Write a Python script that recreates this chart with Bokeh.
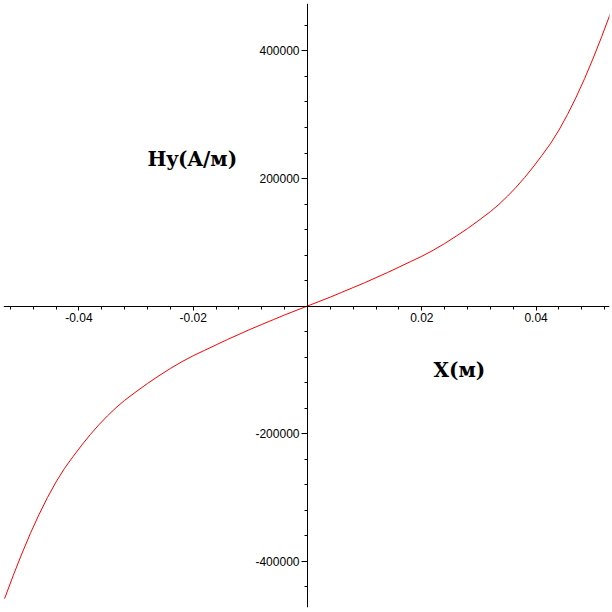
from bokeh.plotting import figure
from bokeh.models import Range1d, FixedTicker, Label, ColumnDataSource
from bokeh.embed import file_html
from bokeh.resources import INLINE

# Curve H_y(x) (positive half; the curve is odd-symmetric)
x_pos = [0.0, 0.002, 0.004, 0.006, 0.008, 0.010, 0.012, 0.014, 0.016, 0.018, 0.020,
         0.022, 0.024, 0.026, 0.028, 0.030, 0.032, 0.0335, 0.035, 0.0365, 0.038,
         0.0395, 0.041, 0.0425, 0.044, 0.0455, 0.047, 0.0485, 0.050, 0.0515, 0.053]
hy_pos = [0, 7000, 14000, 21500, 29000, 36500, 44500, 52500, 61000, 69500, 78000,
          87500, 98000, 109500, 121500, 134500, 148000, 159500, 172300, 186300, 201600,
          218200, 236000, 254500, 276000, 300500, 327500, 357000, 389000, 423000, 459000]
x_neg = [-0.053, -0.0515, -0.050, -0.0485, -0.047, -0.0455, -0.044, -0.0425, -0.041,
         -0.0395, -0.038, -0.0365, -0.035, -0.0335, -0.032, -0.030, -0.028, -0.026,
         -0.024, -0.022, -0.020, -0.018, -0.016, -0.014, -0.012, -0.010, -0.008,
         -0.006, -0.004, -0.002]
hy_neg = [-459000, -423000, -389000, -357000, -327500, -300500, -276000, -254500, -236000,
          -218200, -201600, -186300, -172300, -159500, -148000, -134500, -121500, -109500,
          -98000, -87500, -78000, -69500, -61000, -52500, -44500, -36500, -29000,
          -21500, -14000, -7000]

x_major = [-0.04, -0.02, 0.02, 0.04]
x_major_labels = ["-0.04", "-0.02", "0.02", "0.04"]
x_minor = [-0.052, -0.048, -0.044, -0.036, -0.032, -0.028, -0.024, -0.016, -0.012,
           -0.008, -0.004, 0.004, 0.008, 0.012, 0.016, 0.024, 0.028, 0.032, 0.036,
           0.044, 0.048, 0.052]
y_major = [-400000, -200000, 200000, 400000]
y_major_labels = ["-400000", "-200000", "200000", "400000"]
y_minor = [-440000, -360000, -320000, -280000, -240000, -160000, -120000, -80000, -40000,
           40000, 80000, 120000, 160000, 240000, 280000, 320000, 360000, 440000]

p = figure(width=612, height=612, output_backend="svg", toolbar_location=None,
           x_range=Range1d(-0.05319, 0.05284), y_range=Range1d(-472900, 474500),
           min_border_left=3, min_border_right=3, min_border_top=3, min_border_bottom=5,
           outline_line_color=None, background_fill_color="white")
p.grid.visible = False

src = ColumnDataSource(dict(x=x_neg + x_pos, y=hy_neg + hy_pos))
p.line("x", "y", source=src, line_color="#ff0000", line_width=1)

for ax in (p.xaxis[0], p.yaxis[0]):
    ax.fixed_location = 0
    ax.axis_line_color = "black"
    ax.axis_line_width = 1
    ax.major_tick_in = 0
    ax.minor_tick_in = 0
    ax.minor_tick_out = 3
    ax.major_tick_line_color = "black"
    ax.minor_tick_line_color = "black"
    ax.major_label_text_font = "Liberation Sans"
    ax.major_label_text_font_size = "12px"
    ax.major_label_text_color = "black"

p.xaxis[0].ticker = FixedTicker(ticks=x_major, minor_ticks=x_minor)
p.xaxis[0].major_label_overrides = dict(zip(x_major, x_major_labels))
p.xaxis[0].major_tick_out = 4
p.xaxis[0].major_label_standoff = 3

p.yaxis[0].ticker = FixedTicker(ticks=y_major, minor_ticks=y_minor)
p.yaxis[0].major_label_overrides = dict(zip(y_major, y_major_labels))
p.yaxis[0].major_tick_out = 6
p.yaxis[0].major_label_standoff = 2

p.add_layout(Label(x=144, y=449, x_units="screen", y_units="screen", text="Hy(A/м)",
                   text_font="DejaVu Serif", text_font_style="bold", text_font_size="20px",
                   text_baseline="middle", text_color="black"))
p.add_layout(Label(x=430, y=238, x_units="screen", y_units="screen", text="X(м)",
                   text_font="DejaVu Serif", text_font_style="bold", text_font_size="20px",
                   text_baseline="middle", text_color="black"))

open("out.html", "w").write(file_html(p, INLINE))
